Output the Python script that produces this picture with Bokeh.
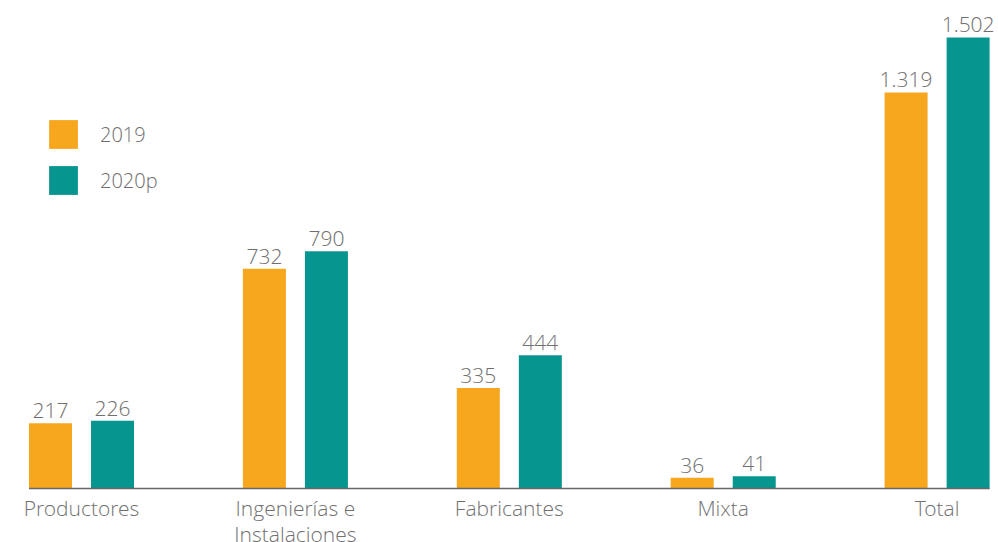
from bokeh.plotting import figure
from bokeh.models import ColumnDataSource, Legend, LegendItem
from bokeh.core.properties import value
from bokeh.embed import file_html
from bokeh.resources import INLINE

categories = ["Productores", "Ingenierías e\nInstalaciones", "Fabricantes", "Mixta", "Total"]
values_2019 = [217, 732, 335, 36, 1319]
values_2020 = [226, 790, 444, 41, 1502]
series_names = ["2019", "2020p"]
colors = ["#F6A71E", "#07968F"]

FONT_NAME = "Open Sans Light, Open Sans"
FONT = value(FONT_NAME)
TEXT_COLOR = "#707070"

def fmt(v):
    return f"{v:,}".replace(",", ".")

n = len(categories)
xs = list(range(n))
offset = 0.145
bw = 0.201

p = figure(width=998, height=542, output_backend="svg", toolbar_location=None,
           x_range=(-0.3787, 4.287), y_range=(-179.8, 1625.0),
           min_border=0, min_border_left=0, min_border_right=0,
           min_border_top=0, min_border_bottom=0)
p.axis.visible = False
p.grid.visible = False
p.outline_line_color = None
p.background_fill_color = "white"
p.border_fill_color = "white"

src1 = ColumnDataSource(dict(x=[x - offset for x in xs], top=values_2019,
                             lab=[fmt(v) for v in values_2019]))
src2 = ColumnDataSource(dict(x=[x + offset for x in xs], top=values_2020,
                             lab=[fmt(v) for v in values_2020]))

r1 = p.vbar(x="x", top="top", bottom=0, width=bw, source=src1,
            fill_color=colors[0], line_color=None)
r2 = p.vbar(x="x", top="top", bottom=0, width=bw, source=src2,
            fill_color=colors[1], line_color=None)

for s in (src1, src2):
    p.text(x="x", y="top", text="lab", source=s, text_align="center",
           text_baseline="bottom", y_offset=-5, text_font=FONT,
           text_font_size="21px", text_color=TEXT_COLOR)

# baseline
x0 = xs[0] - offset - bw / 2
x1 = xs[-1] + offset + bw / 2
p.segment(x0=[x0], y0=[0], x1=[x1], y1=[0], line_color="#666666", line_width=1.5)

# category labels
csrc = ColumnDataSource(dict(x=xs, y=[0] * n, t=categories))
p.text(x="x", y="y", text="t", source=csrc, text_align="center",
       text_baseline="top", y_offset=5, text_font=FONT, text_font_size="21px",
       text_color=TEXT_COLOR, text_line_height=0.95)

legend = Legend(items=[LegendItem(label=series_names[0], renderers=[r1]),
                       LegendItem(label=series_names[1], renderers=[r2])],
                location=(45, 344), orientation="vertical",
                glyph_width=36, glyph_height=36, spacing=10, padding=0, margin=0,
                label_standoff=19, label_text_font=FONT_NAME, label_text_font_size="20px",
                label_text_color=TEXT_COLOR, label_height=36,
                border_line_color=None, background_fill_alpha=0)
p.add_layout(legend)

open("out.html", "w").write(file_html(p, INLINE))
